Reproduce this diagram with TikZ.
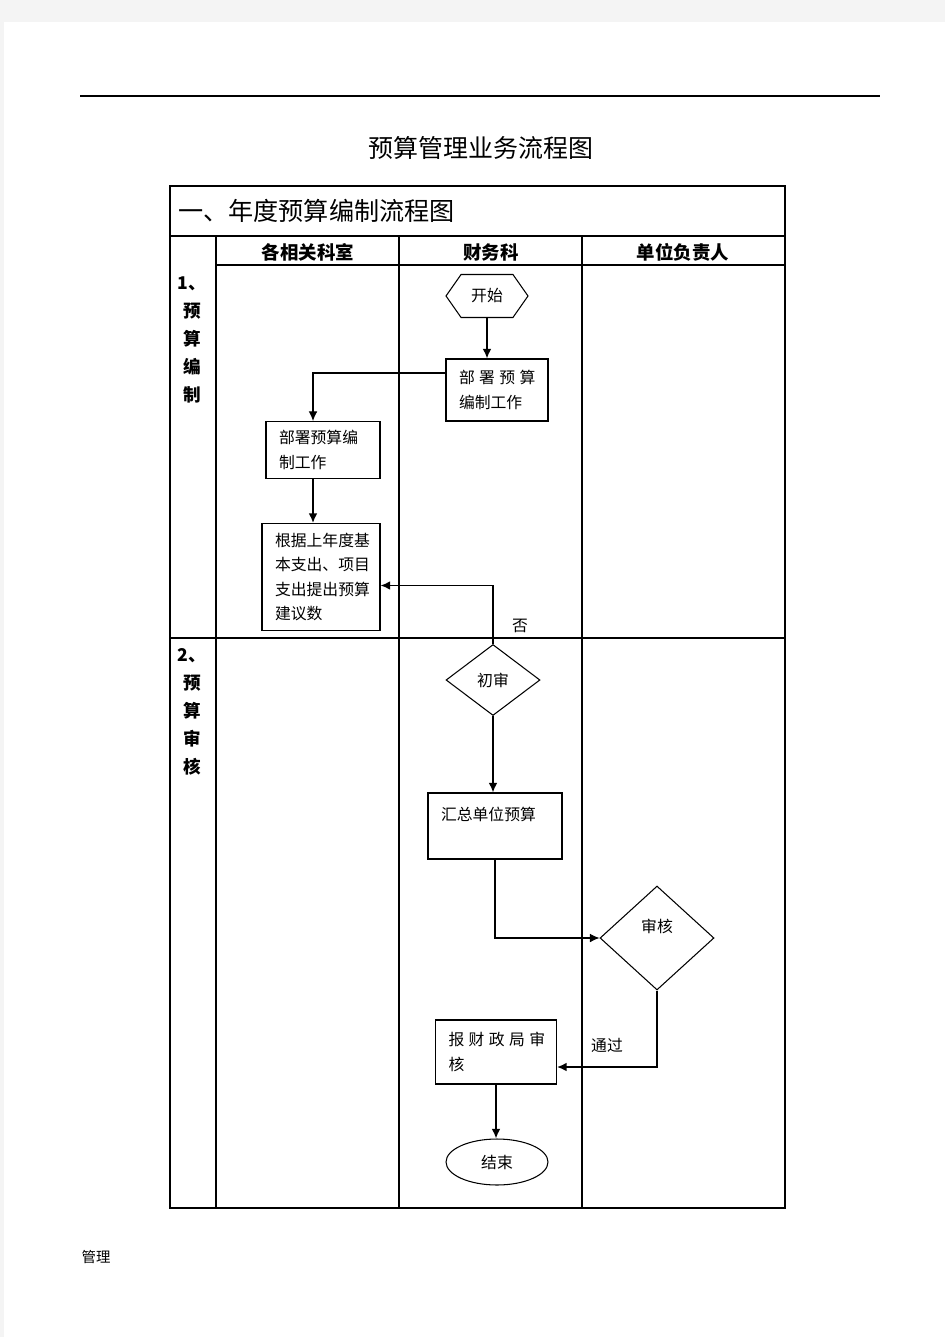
\documentclass[tikz,border=0pt]{standalone}
\usepackage{fontspec}
\setmainfont{Noto Sans CJK SC}
\usetikzlibrary{positioning, calc, shapes.geometric, shapes.symbols, arrows.meta}
\definecolor{pagegray}{RGB}{244,244,244}
\newcommand{\chargap}{\kern2.5pt}

\begin{document}
\begin{tikzpicture}[x=0.02cm, y=-0.02cm,
		font=\fontsize{9}{14}\selectfont,
		task/.style={draw, line width=0.6pt, inner xsep=0.26cm, inner ysep=0pt, align=left},
		check/.style={diamond, draw, line width=0.6pt, inner sep=0pt},
		link/.style={-{Latex[length=5.5pt,width=5pt]}, line width=0.9pt},
		grid/.style={line width=0.6pt},
		lane/.style={align=center, font=\fontsize{10}{16}\selectfont\bfseries},
		head/.style={font=\fontsize{10.5}{12}\selectfont\bfseries}]
					\useasboundingbox (0,0) rectangle (945,1337);
					\fill[pagegray] (0,0) rectangle (945,22);
					\fill[pagegray] (0,22) rectangle (4,1337);
					\draw[line width=0.9pt] (80,96) -- (880,96);
					
					\node (title) at (481,148) [font=\fontsize{14.2}{16}\selectfont] {预算管理业务流程图};
					
					% table
					\draw[grid] (170,186) rectangle (785,1208);
					\draw[grid] (170,236) -- (785,236);
					\draw[grid] (216,265) -- (785,265);
					\draw[grid] (170,638) -- (785,638);
					\draw[grid] (216,236) -- (216,1208);
					\draw[grid] (399,236) -- (399,1208);
					\draw[grid] (582,236) -- (582,1208);
					
					\node (part) at (178,211) [anchor=west, inner sep=0pt, font=\fontsize{14.3}{16}\selectfont] {一、年度预算编制流程图};
					\node (h1) at (308,252) [head] {各相关科室};
					\node (h2) at (491,252) [head] {财务科};
					\node (h3) at (683,252) [head] {单位负责人};
					\node (s1) at (192,340) [lane] {1、\\预\\算\\编\\制};
					\node (s2) at (192,712) [lane] {2、\\预\\算\\审\\核};
					
					% nodes
					\node (start) at (487,296) [signal, signal to=east and west, signal pointer angle=110, draw, line width=0.6pt, minimum width=1.64cm, minimum height=0.86cm, inner sep=0pt] {开始};
					\node (plan) at (497,390) [task, text width=1.52cm, minimum height=1.24cm] {部\chargap 署\chargap 预\chargap 算\\编制工作};
					\node (plan2) at (323,450) [task, text width=1.76cm, minimum height=1.14cm] {部署预算编\\制工作};
					\node (draft) at (321,577) [task, text width=1.84cm, minimum height=2.14cm] {根据上年度基\\本支出、项目\\支出提出预算\\建议数};
					\node (chk1) at (493,680) [check, minimum width=1.88cm, minimum height=1.42cm] {初审};
					\node (sum) at (495,826) [task, text width=2.16cm, minimum height=1.32cm] {汇总单位预算\\\mbox{}};
					\node (chk2) at (657,938) [check, minimum width=2.28cm, minimum height=2.08cm] {\raisebox{0.48cm}{审核}};
					\node (report) at (496,1052) [task, text width=1.9cm, minimum height=1.28cm] {报\chargap 财\chargap 政\chargap 局\chargap 审\\核};
					\node (end) at (497,1162) [ellipse, draw, line width=0.6pt, minimum width=2.04cm, minimum height=0.92cm, inner sep=0pt] {结束};
					
					\draw[link] (start) -- (plan.north -| start);
					\draw[link, line width=0.6pt] ([yshift=0.34cm]plan.west) -| ([xshift=-0.2cm]plan2.north);
					\draw[link] ([xshift=-0.2cm]plan2.south) -- ([xshift=-0.2cm]plan2.south |- draft.north);
					\draw[link] (chk1.north) |- ([yshift=-0.17cm]draft.east) node[pos=0.15, right=0.25cm] {否};
					\draw[link] (chk1.south) -- (chk1.south |- sum.north);
					\draw[link, line width=0.6pt] (sum.south) |- (chk2.west);
					\draw[link] (chk2.south) |- ([yshift=-0.3cm]report.east) node[pos=0.75, above=0.15cm] {通过};
					\draw[link] (report.south) -- (report.south |- end.north);
					
					\node (foot) at (96,1257) [font=\fontsize{8.2}{10}\selectfont] {管理};
				\end{tikzpicture}
\end{document}
